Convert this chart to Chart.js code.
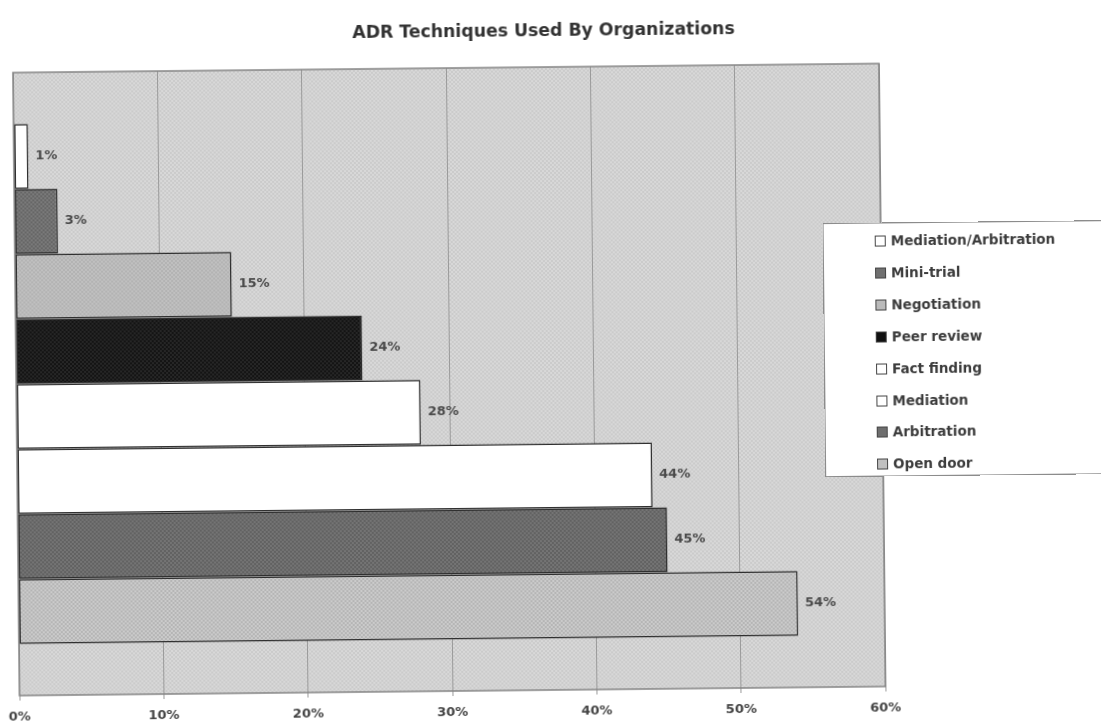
<!DOCTYPE html>
<html>
<head>
<meta charset="utf-8">
<title>ADR Techniques Used By Organizations</title>
<script src="https://cdn.jsdelivr.net/npm/chart.js@4.4.1/dist/chart.umd.min.js"></script>
<style>
  html, body { margin: 0; padding: 0; background: #ffffff; overflow: hidden; }
  #page { position: relative; width: 1101px; height: 725px; transform: rotate(-0.6deg); transform-origin: 550px 362px; }
  #chart { position: absolute; left: 0; top: 0; }
  #title {
    position: absolute; left: 0; top: 20px; width: 1094px; text-align: center;
    font-family: "DejaVu Sans", sans-serif; font-weight: bold; font-size: 17.3px; line-height: 20px; color: #333333;
  }
  #legend {
    position: absolute; left: 824px; top: 226px; width: 340px; height: 254px;
    background: #ffffff; border: 1px solid #8c8c8c; box-sizing: border-box;
    font-family: "DejaVu Sans", sans-serif; font-weight: bold; font-size: 13.5px; color: #3c3c3c;
  }
  .item { position: absolute; left: 51px; height: 16px; line-height: 16px; white-space: nowrap; }
  .swatch { display: inline-block; width: 9px; height: 9px; border: 1px solid #444; margin-right: 5px; vertical-align: -1px; }
</style>
</head>
<body>
<div id="page">
  <canvas id="chart" width="1101" height="725"></canvas>
  <div id="title"></div>
  <div id="legend"></div>
</div>
<script>
// Share of organizations using each technique (percent)
const techniques = ['Mediation/Arbitration', 'Mini-trial', 'Negotiation', 'Peer review',
                    'Fact finding', 'Mediation', 'Arbitration', 'Open door'];
const usage = [1, 3, 15, 24, 28, 44, 45, 54];
const xTicks = [0, 10, 20, 30, 40, 50, 60];
const tickLabels = ['0%', '10%', '20%', '30%', '40%', '50%', '60%'];
const chartTitle = 'ADR Techniques Used By Organizations';

// Small dotted fills, like the old spreadsheet hatch patterns
function dotFill(base, dot, size) {
  const c = document.createElement('canvas');
  c.width = size; c.height = size;
  const g = c.getContext('2d');
  g.fillStyle = base; g.fillRect(0, 0, size, size);
  g.fillStyle = dot;
  const h = size / 2;
  g.fillRect(0, 0, h, h);
  g.fillRect(h, h, h, h);
  return g.createPattern(c, 'repeat');
}

const plotFill = dotFill('#d8d8d8', '#cbcbcb', 4);
const fills = [
  '#ffffff',
  dotFill('#7a7a7a', '#666666', 4),
  dotFill('#c0c0c0', '#b3b3b3', 4),
  dotFill('#262626', '#141414', 4),
  '#ffffff',
  '#ffffff',
  dotFill('#747474', '#626262', 4),
  dotFill('#cbcbcb', '#b5b5b5', 4)
];
const swatchColors = ['#ffffff', '#707070', '#bababa', '#111111', '#ffffff', '#ffffff', '#6e6e6e', '#c0c0c0'];

// Plot area background and frame
const plotFrame = {
  id: 'plotFrame',
  beforeDraw(chart) {
    const a = chart.chartArea, ctx = chart.ctx;
    ctx.save();
    ctx.fillStyle = plotFill;
    ctx.fillRect(a.left, a.top, a.right - a.left, a.bottom - a.top);
    ctx.restore();
  },
  beforeDatasetsDraw(chart) {
    const a = chart.chartArea, ctx = chart.ctx;
    ctx.save();
    ctx.strokeStyle = '#858585';
    ctx.lineWidth = 1.5;
    ctx.strokeRect(a.left, a.top, a.right - a.left, a.bottom - a.top);
    ctx.restore();
  }
};

// Percentage label to the right of each bar
const valueLabels = {
  id: 'valueLabels',
  afterDatasetsDraw(chart) {
    const ctx = chart.ctx;
    ctx.save();
    ctx.font = 'bold 13px "DejaVu Sans", sans-serif';
    ctx.fillStyle = '#4a4a4a';
    ctx.textAlign = 'left';
    ctx.textBaseline = 'middle';
    chart.data.datasets.forEach((ds, i) => {
      const bar = chart.getDatasetMeta(i).data[0];
      ctx.fillText(ds.data[0] + '%', bar.x + 7, bar.y);
    });
    ctx.restore();
  }
};

new Chart(document.getElementById('chart'), {
  type: 'bar',
  data: {
    labels: [''],
    datasets: techniques.map((name, i) => ({
      label: name,
      data: [usage[i]],
      backgroundColor: fills[i],
      borderColor: '#2e2e2e',
      borderWidth: 1.5,
      borderSkipped: false,
      categoryPercentage: 0.835,
      barPercentage: 1
    }))
  },
  options: {
    indexAxis: 'y',
    responsive: false,
    animation: false,
    layout: { padding: { left: 16, right: 219, top: 67, bottom: 0 } },
    plugins: {
      legend: { display: false },
      tooltip: { enabled: false },
      title: { display: false }
    },
    scales: {
      x: {
        min: 0,
        max: 60,
        afterBuildTicks(scale) { scale.ticks = xTicks.map(v => ({ value: v })); },
        // fixed axis band under the plot; edge labels may overhang the sides
        afterFit(scale) {
          scale.height = 35;
          scale.paddingLeft = 0;
          scale.paddingRight = 0;
        },
        ticks: {
          callback: (v) => tickLabels[xTicks.indexOf(v)],
          color: '#444444',
          font: { family: '"DejaVu Sans", sans-serif', weight: 'bold', size: 13 },
          padding: 9,
          maxRotation: 0
        },
        grid: { color: '#9a9a9a', lineWidth: 1, tickLength: 5 },
        border: { display: false }
      },
      y: { display: false }
    }
  },
  plugins: [plotFrame, valueLabels]
});

document.getElementById('title').textContent = chartTitle;

// Legend entries
const legend = document.getElementById('legend');
techniques.forEach((name, i) => {
  const row = document.createElement('div');
  row.className = 'item';
  row.style.top = (9 + i * 31.9) + 'px';
  const sw = document.createElement('span');
  sw.className = 'swatch';
  sw.style.background = swatchColors[i];
  row.appendChild(sw);
  row.appendChild(document.createTextNode(name));
  legend.appendChild(row);
});
</script>
</body>
</html>
